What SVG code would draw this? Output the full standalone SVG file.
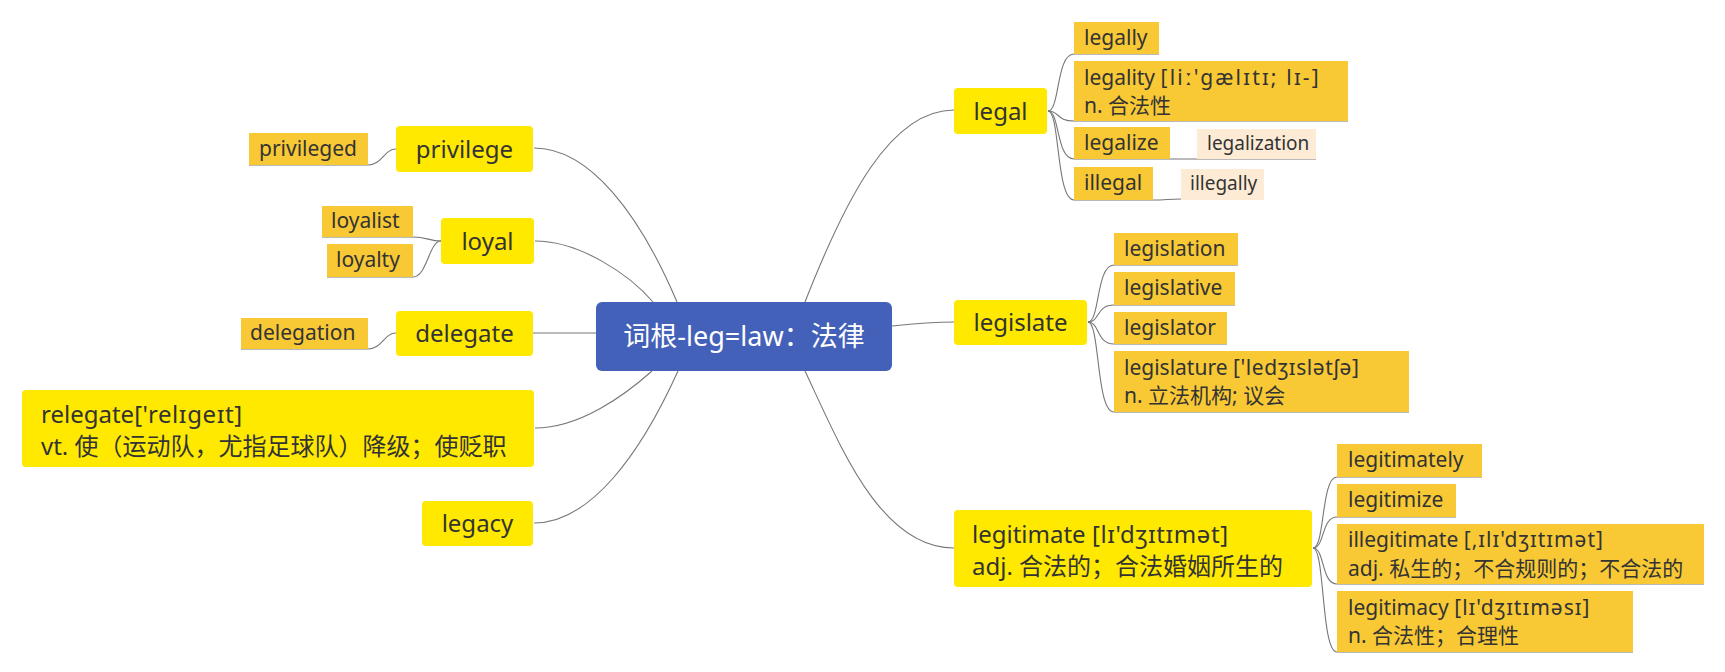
<svg xmlns="http://www.w3.org/2000/svg" width="1725" height="672" viewBox="0 0 1725 672">
<style>
text{font-family:"Noto Sans","Noto Sans CJK SC",sans-serif;fill:#333333}
.l1 rect{fill:#FFE900}
.l1 text{font-size:24px}
.l2 rect{fill:#F8C935}
.l2 text{font-size:21px}
.l3 rect{fill:#FDEBD5}
.l3 text{font-size:19px}
.c{text-anchor:middle}
.ipa{letter-spacing:0.6px}
#connectors path{fill:none;stroke:#777777;stroke-width:1.1}
</style>
<rect width="1725" height="672" fill="#ffffff"/>
<g id="connectors">
<path d="M677 302 C640 215 590 148 534 148"/>
<path d="M653 302 C630 275 580 241 535 241"/>
<path d="M596 333 C570 333 560 333 533 333"/>
<path d="M652 371 C625 395 580 428 535 428"/>
<path d="M678 371 C640 455 590 523 534 523"/>
<path d="M805 302 C845 200 890 110 954 110"/>
<path d="M892 326 C920 323 930 322 954 322"/>
<path d="M805 371 C840 445 880 548 954 548"/>
<path d="M1048 111 C1060 111 1056 54 1074 54 H1159"/>
<path d="M1048 111 C1060 111 1056 121 1074 121 H1348"/>
<path d="M1048 111 C1060 111 1056 159 1074 159 H1316"/>
<path d="M1048 111 C1060 111 1056 200 1074 200 H1153 C1165 200 1170 199 1181 199 H1264"/>
<path d="M1088 322 C1100 322 1096 265 1114 265 H1238"/>
<path d="M1088 322 C1100 322 1096 305 1114 305 H1235"/>
<path d="M1088 322 C1100 322 1096 344 1114 344 H1227"/>
<path d="M1088 322 C1100 322 1096 412 1114 412 H1409"/>
<path d="M1313 548 C1325 548 1321 477 1337 477 H1482"/>
<path d="M1313 548 C1325 548 1321 517 1337 517 H1456"/>
<path d="M1313 548 C1325 548 1321 584 1337 584 H1704"/>
<path d="M1313 548 C1325 548 1321 652 1337 652 H1633"/>
<path d="M396 149 C384 149 382 165 368 165 H249"/>
<path d="M441 241 C429 241 427 237 413 237 H322"/>
<path d="M441 241 C429 241 427 277 413 277 H327"/>
<path d="M396 333 C384 333 382 349 368 349 H241"/>
</g>
<g id="root">
<rect x="596" y="302" width="296" height="69" rx="6" fill="#4361B9"/>
<text x="744" y="346" class="c" style="font-size:27px;fill:#ffffff">词根-leg=law：法律</text>
</g>
<g id="n-privilege" class="l1"><rect x="396" y="126" width="137" height="46" rx="4"/><text x="464.5" y="157.5" class="c">privilege</text></g>
<g id="n-loyal" class="l1"><rect x="441" y="218" width="93" height="46" rx="4"/><text x="487.5" y="249.5" class="c">loyal</text></g>
<g id="n-delegate" class="l1"><rect x="396" y="311" width="137" height="45" rx="4"/><text x="464.5" y="341.5" class="c">delegate</text></g>
<g id="n-relegate" class="l1"><rect x="22" y="390" width="512" height="77" rx="4"/><text x="41" y="423">relegate<tspan class="ipa">['relɪgeɪt]</tspan></text><text x="41" y="455">vt. 使（运动队，尤指足球队）降级；使贬职</text></g>
<g id="n-legacy" class="l1"><rect x="422" y="501" width="111" height="45" rx="4"/><text x="477.5" y="531.5" class="c">legacy</text></g>
<g id="n-legal" class="l1"><rect x="954" y="88" width="93" height="46" rx="4"/><text x="1000.5" y="119.5" class="c">legal</text></g>
<g id="n-legislate" class="l1"><rect x="954" y="300" width="133" height="45" rx="4"/><text x="1020.5" y="330.5" class="c">legislate</text></g>
<g id="n-legitimate" class="l1"><rect x="954" y="510" width="358" height="77" rx="4"/><text x="972" y="543">legitimate <tspan class="ipa">[lɪ'dʒɪtɪmət]</tspan></text><text x="972" y="575">adj. 合法的；合法婚姻所生的</text></g>
<g id="n-legally" class="l2"><rect x="1074" y="22" width="85" height="32"/><text x="1084" y="45">legally</text></g>
<g id="n-legality" class="l2"><rect x="1074" y="61" width="274" height="60"/><text x="1084" y="85">legality <tspan style="letter-spacing:2.2px">[liː'gælɪtɪ; lɪ-]</tspan></text><text x="1084" y="113">n. 合法性</text></g>
<g id="n-legalize" class="l2"><rect x="1074" y="127" width="96" height="32"/><text x="1084" y="150">legalize</text></g>
<g id="n-legalization" class="l3"><rect x="1197" y="129" width="119" height="30"/><text x="1207" y="150">legalization</text></g>
<g id="n-illegal" class="l2"><rect x="1074" y="167" width="79" height="33"/><text x="1084" y="190">illegal</text></g>
<g id="n-illegally" class="l3"><rect x="1181" y="169" width="83" height="31"/><text x="1190" y="190">illegally</text></g>
<g id="n-legislation" class="l2"><rect x="1114" y="233" width="124" height="32"/><text x="1124" y="256">legislation</text></g>
<g id="n-legislative" class="l2"><rect x="1114" y="272" width="121" height="33"/><text x="1124" y="295">legislative</text></g>
<g id="n-legislator" class="l2"><rect x="1114" y="312" width="113" height="32"/><text x="1124" y="335">legislator</text></g>
<g id="n-legislature" class="l2"><rect x="1114" y="351" width="295" height="61"/><text x="1124" y="375">legislature <tspan class="ipa">['ledʒɪslətʃə]</tspan></text><text x="1124" y="403">n. 立法机构; 议会</text></g>
<g id="n-legitimately" class="l2"><rect x="1337" y="444" width="145" height="33"/><text x="1348" y="467">legitimately</text></g>
<g id="n-legitimize" class="l2"><rect x="1337" y="484" width="119" height="33"/><text x="1348" y="507">legitimize</text></g>
<g id="n-illegitimate" class="l2"><rect x="1337" y="524" width="367" height="60"/><text x="1348" y="547">illegitimate <tspan style="letter-spacing:1px">[,ɪlɪ'dʒɪtɪmət]</tspan></text><text x="1348" y="576">adj. 私生的；不合规则的；不合法的</text></g>
<g id="n-legitimacy" class="l2"><rect x="1337" y="591" width="296" height="61"/><text x="1348" y="615">legitimacy <tspan style="letter-spacing:1px">[lɪ'dʒɪtɪməsɪ]</tspan></text><text x="1348" y="643">n. 合法性；合理性</text></g>
<g id="n-privileged" class="l2"><rect x="249" y="133" width="119" height="32"/><text x="259" y="156">privileged</text></g>
<g id="n-loyalist" class="l2"><rect x="322" y="206" width="91" height="31"/><text x="331" y="228">loyalist</text></g>
<g id="n-loyalty" class="l2"><rect x="327" y="244" width="86" height="33"/><text x="336" y="267">loyalty</text></g>
<g id="n-delegation" class="l2"><rect x="241" y="318" width="127" height="31"/><text x="250" y="340">delegation</text></g>
</svg>
